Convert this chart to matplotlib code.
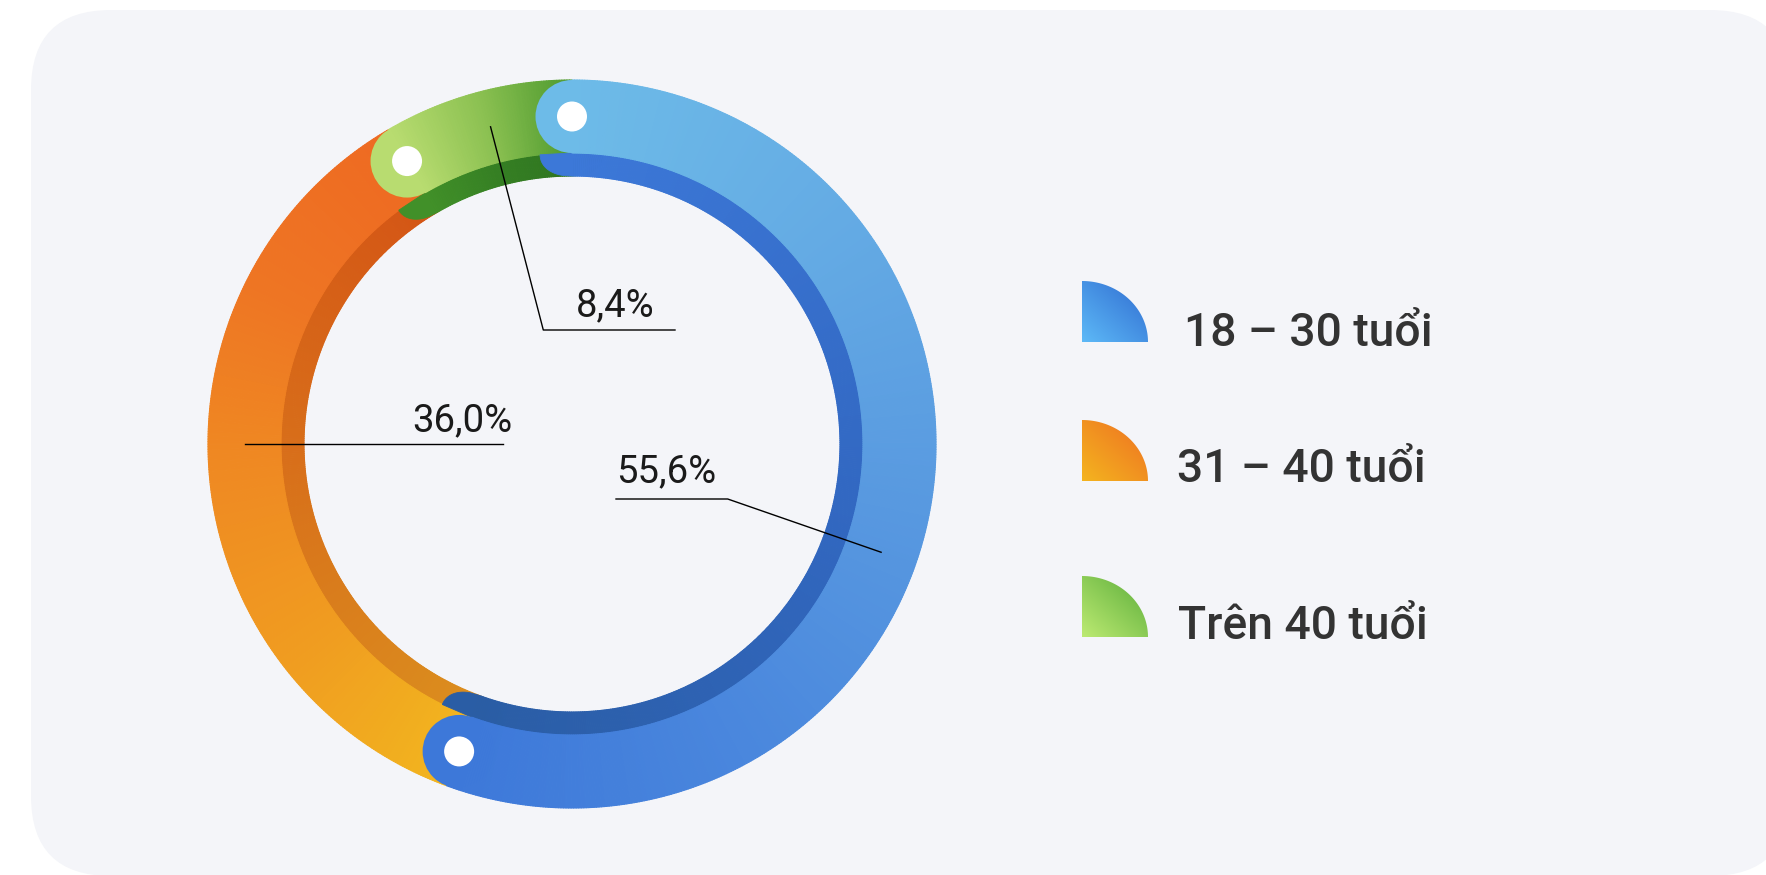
import numpy as np
import matplotlib.pyplot as plt
from matplotlib.collections import PolyCollection
from matplotlib.colors import LinearSegmentedColormap
from matplotlib.patches import Circle, FancyBboxPatch, Polygon

# age groups and their share (%)
groups = ["18 – 30 tuổi", "31 – 40 tuổi", "Trên 40 tuổi"]
shares = [55.6, 36.0, 8.4]
share_labels = ["55,6%", "36,0%", "8,4%"]

# colour ramps along each segment (start -> end, clockwise)
outer_ramps = [
    ["#6DBBE8", "#64ABE4", "#5899E0", "#4A87DD", "#3D78D9"],
    ["#F2B51F", "#F09C20", "#EF8A22", "#EE7523", "#EE6A22"],
    ["#B8DC70", "#8CC152", "#4F9B2F"],
]
inner_ramps = [
    ["#3C78D8", "#3268C2", "#2A5DA5"],
    ["#DB8E1E", "#D8701A", "#D45515"],
    ["#419029", "#357F23", "#2F7520"],
]
icon_ramps = [
    ["#5DB9F7", "#2F6BD0"],
    ["#F4B41F", "#EE7022"],
    ["#BCEA72", "#5BAD3A"],
]

W, H = 1766, 875
cx, cy = 572, 444
r_out, r_mid, r_in = 364, 291, 268
r_c = (r_out + r_mid) / 2
cap_r = (r_out - r_mid) / 2
dot_r = 15

fig = plt.figure(figsize=(W / 100, H / 100), dpi=100)
fig.patch.set_facecolor("white")
ax = fig.add_axes([0, 0, 1, 1])
ax.set_xlim(0, W)
ax.set_ylim(H, 0)
ax.axis("off")

ax.add_patch(FancyBboxPatch((31, 10), 1759, 866,
                            boxstyle="round,pad=0,rounding_size=80",
                            fc="#F4F5F9", ec="none", zorder=0))


def pt(r, deg):
    a = np.radians(deg)
    return cx + r * np.cos(a), cy - r * np.sin(a)


def band(a0, a1, r0, r1, cmap, step=0.4):
    n = max(int(abs(a1 - a0) / step), 2)
    angs = np.linspace(a0, a1, n + 1)
    polys = []
    for k in range(n):
        aa = np.linspace(angs[k], angs[k + 1], 3)
        polys.append([pt(r1, a) for a in aa] + [pt(r0, a) for a in aa[::-1]])
    cols = cmap(np.linspace(0, 1, n))
    ax.add_collection(PolyCollection(polys, facecolors=cols, edgecolors=cols,
                                     linewidths=0.8, zorder=2))


def ext_deg(t, E=32.0, e0=2.0):
    w = r_mid - r_in
    u = np.clip((t - r_in) / w, 0, 1)
    px = e0 + (E - e0) * np.sqrt(1 - (1 - u) ** 2)
    return np.degrees(px / t)


def inner_end(a, sign, color):
    # rounded tail of the inner band, reaching past the segment edge
    ts = np.linspace(r_mid, r_in, 30)
    prof = [pt(t, a + sign * ext_deg(t)) for t in ts]
    back = [pt(t, a) for t in ts[::-1]]
    ax.add_patch(Polygon(prof + back, closed=True, fc=color, ec=color,
                         lw=0.6, zorder=2))


edges = 90 - 3.6 * np.concatenate([[0], np.cumsum(shares)])

for i in [1, 2, 0]:
    a0, a1 = edges[i], edges[i + 1]
    c_out = LinearSegmentedColormap.from_list("o%d" % i, outer_ramps[i])
    c_in = LinearSegmentedColormap.from_list("i%d" % i, inner_ramps[i])

    inner_end(a0, +1, c_in(0.0))
    inner_end(a1, -1, c_in(1.0))
    band(a0, a1, r_in, r_mid, c_in)

    for a, f in [(a0, 0.0), (a1, 1.0)]:
        ax.add_patch(Circle(pt(r_c, a), cap_r, fc=c_out(f), ec="none", zorder=2))
    band(a0, a1, r_mid, r_out, c_out)
    for a in [a0, a1]:
        ax.add_patch(Circle(pt(r_c, a), dot_r, fc="white", ec="none", zorder=2))

# leader lines and value labels
label_font = dict(family="Roboto", fontweight="normal", fontsize=27.5,
                  color="#1A1A1A", zorder=5)
anchor_deg = [-19.3, 180.0, 104.4]

x, y = pt(r_c, anchor_deg[0])
ax.plot([x, 727.7, 616], [y, 499, 499], color="black", lw=1.0, zorder=4)
ax.text(616, 482, share_labels[0], ha="left", va="baseline", **label_font)

x, y = pt(r_c, anchor_deg[1])
ax.plot([x, 503], [y, y], color="black", lw=1.0, zorder=4)
ax.text(512, 431, share_labels[1], ha="right", va="baseline", **label_font)

x, y = pt(r_c, anchor_deg[2])
ax.plot([x, 543.3, 675], [y, 330, 330], color="black", lw=1.0, zorder=4)
ax.text(615.5, 316, share_labels[2], ha="center", va="baseline", **label_font)

# legend: quarter-disc swatches with diagonal gradient
icon_x, icon_w, icon_h = 1082, 66, 61
icon_bottom = [342, 481, 637]
text_x = [1184, 1177, 1178]
text_base = [346, 482, 639]

gx, gy = np.meshgrid(np.linspace(0, 1, 80), np.linspace(1, 0, 80))
grad = (gx + gy) / 2
for i, g in enumerate(groups):
    yb = icon_bottom[i]
    phi = np.radians(np.linspace(90, 0, 60))
    verts = [(icon_x, yb)] + list(zip(icon_x + icon_w * np.cos(phi),
                                      yb - icon_h * np.sin(phi)))
    clip = Polygon(verts, closed=True, transform=ax.transData)
    im = ax.imshow(grad, cmap=LinearSegmentedColormap.from_list("c%d" % i, icon_ramps[i]),
                   extent=(icon_x, icon_x + icon_w, yb, yb - icon_h),
                   origin="upper", interpolation="bilinear", zorder=3, aspect="auto")
    im.set_clip_path(clip)
    ax.text(text_x[i], text_base[i], g, ha="left", va="baseline",
            family="Roboto", fontweight="medium", fontsize=33.3, color="#333333")

ax.set_xlim(0, W)
ax.set_ylim(H, 0)
fig.savefig("out.png", dpi=100, facecolor="white")
